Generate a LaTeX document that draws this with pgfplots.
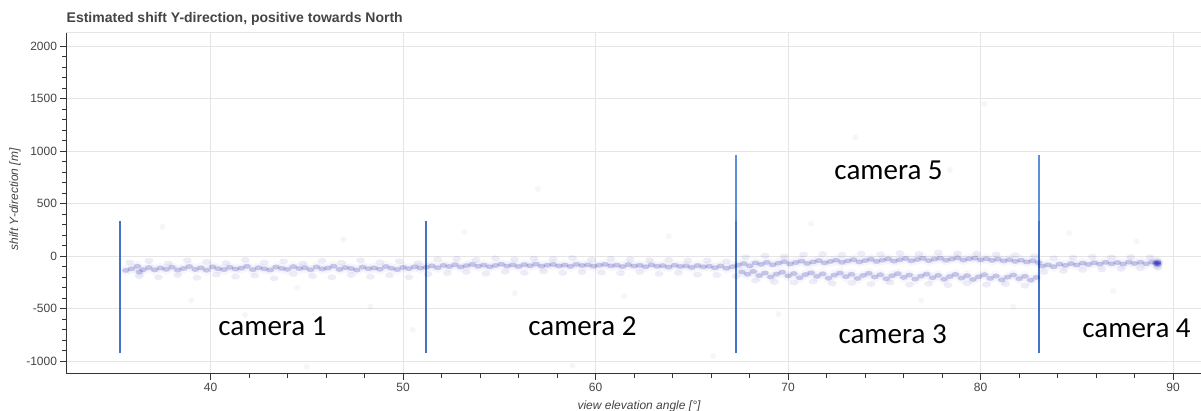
\documentclass[border=0pt]{standalone}
\usepackage{pgfplots}
\pgfplotsset{compat=1.18}
\usepackage{pgfplotstable}
\usepackage{fontspec}
\setmainfont{Liberation Sans}
\newfontfamily\camfont{Carlito}

\definecolor{txt}{HTML}{444444}
\definecolor{gridc}{HTML}{E5E5E5}
\definecolor{axc}{HTML}{333333}
\definecolor{camline}{HTML}{4472C4}
\definecolor{camlinelight}{HTML}{5F8FD8}
\definecolor{pts}{rgb}{0.0,0.0,0.62}

% estimated shift samples: elevation angle [deg], shift [m]
\pgfplotstableread{
x y
35.6 -135
35.9 -120
36.2 -95
36.3 -150
36.5 -128
36.8 -108
37.1 -130
37.4 -112
37.7 -125
38.0 -104
38.3 -131
38.6 -117
38.9 -98
39.2 -126
39.5 -110
39.8 -133
40.1 -101
40.4 -119
40.7 -127
41.0 -106
41.3 -122
41.6 -114
41.9 -96
42.2 -128
42.5 -109
42.8 -120
43.1 -131
43.4 -103
43.7 -116
44.0 -125
44.3 -99
44.6 -118
44.9 -110
45.2 -129
45.5 -102
45.8 -121
46.1 -113
46.4 -95
46.7 -126
47.0 -108
47.3 -117
47.6 -132
47.9 -104
48.2 -119
48.5 -111
48.8 -124
49.1 -98
49.4 -115
49.7 -127
50.0 -106
50.3 -118
50.6 -101
50.9 -113
51.2 -105
51.5 -92
51.8 -110
52.1 -87
52.4 -99
52.7 -81
53.0 -103
53.3 -90
53.6 -78
53.9 -96
54.2 -85
54.5 -101
54.8 -88
55.1 -76
55.4 -94
55.7 -83
56.0 -98
56.3 -80
56.6 -91
56.9 -75
57.2 -95
57.5 -86
57.8 -79
58.1 -93
58.4 -84
58.7 -97
59.0 -77
59.3 -89
59.6 -82
59.9 -95
60.2 -86
60.5 -78
60.8 -92
61.1 -85
61.4 -99
61.7 -80
62.0 -94
62.3 -87
62.6 -101
62.9 -83
63.2 -96
63.5 -90
63.8 -104
64.1 -86
64.4 -98
64.7 -92
65.0 -107
65.3 -89
65.6 -101
65.9 -95
66.2 -110
66.5 -93
66.8 -115
67.1 -100
67.4 -85
67.7 -70
68.0 -92
68.3 -64
68.6 -78
68.9 -58
69.2 -82
69.5 -66
69.8 -52
70.1 -74
70.4 -60
70.7 -47
71.0 -69
71.3 -55
71.6 -42
71.9 -63
72.2 -50
72.5 -38
72.8 -58
73.1 -45
73.4 -33
73.7 -54
74.0 -41
74.3 -29
74.6 -50
74.9 -37
75.2 -26
75.5 -47
75.8 -34
76.1 -22
76.4 -44
76.7 -31
77.0 -20
77.3 -42
77.6 -28
77.9 -18
78.2 -39
78.5 -27
78.8 -16
79.1 -37
79.4 -25
79.7 -19
80.0 -35
80.3 -24
80.6 -40
80.9 -28
81.2 -45
81.5 -33
81.8 -49
82.1 -38
82.4 -55
82.7 -44
83.0 -60
67.6 -150
67.9 -172
68.2 -145
68.5 -185
68.8 -160
69.1 -198
69.4 -170
69.7 -152
70.0 -188
70.3 -165
70.6 -205
70.9 -175
71.2 -158
71.5 -192
71.8 -168
72.1 -210
72.4 -180
72.7 -160
73.0 -195
73.3 -172
73.6 -212
73.9 -183
74.2 -163
74.5 -198
74.8 -176
75.1 -215
75.4 -186
75.7 -166
76.0 -202
76.3 -179
76.6 -218
76.9 -190
77.2 -170
77.5 -205
77.8 -182
78.1 -220
78.4 -193
78.7 -173
79.0 -208
79.3 -185
79.6 -222
79.9 -196
80.2 -176
80.5 -211
80.8 -188
81.1 -225
81.4 -199
81.7 -179
82.0 -214
82.3 -191
82.6 -228
82.9 -202
83.2 -95
83.5 -82
83.8 -100
84.1 -75
84.4 -88
84.7 -70
85.0 -84
85.3 -66
85.6 -79
85.9 -62
86.2 -76
86.5 -58
86.8 -72
87.1 -60
87.4 -75
87.7 -56
88.0 -70
88.3 -58
88.6 -73
88.9 -55
89.1 -68
89.2 -62
89.2 -70
89.2 -55
89.2 -78
}\shiftdata

% samples in the fringes of the band
\pgfplotstableread{
x y
35.8 -60
36.3 -190
36.8 -45
37.3 -200
37.8 -70
38.3 -180
38.8 -40
39.3 -205
39.8 -55
40.3 -175
40.8 -65
41.3 -195
41.8 -35
42.3 -185
42.8 -60
43.3 -210
43.8 -50
44.3 -170
44.8 -70
45.3 -190
45.8 -45
46.3 -200
46.8 -62
47.3 -178
47.8 -40
48.3 -195
48.8 -58
49.3 -182
49.8 -48
50.3 -200
50.8 -66
51.3 -170
51.8 -30
52.3 -160
52.8 -25
53.3 -150
53.8 -35
54.3 -165
54.8 -20
55.3 -148
55.8 -30
56.3 -158
56.8 -22
57.3 -145
57.8 -28
58.3 -160
58.8 -18
59.3 -150
59.8 -32
60.3 -155
60.8 -25
61.3 -162
61.8 -30
62.3 -150
62.8 -38
63.3 -168
63.8 -35
64.3 -158
64.8 -42
65.3 -175
65.8 -40
66.3 -180
66.8 -50
67.3 -190
67.8 -10
68.3 -230
68.8 5
69.3 -245
69.8 -2
70.3 -250
70.8 15
71.3 -240
71.8 20
72.3 -260
72.8 12
73.3 -255
73.8 25
74.3 -265
74.8 18
75.3 -250
75.8 30
76.3 -270
76.8 22
77.3 -262
77.8 35
78.3 -275
78.8 28
79.3 -258
79.8 25
80.3 -270
80.8 18
81.3 -265
81.8 10
82.3 -280
82.8 0
83.3 -150
83.8 -20
84.3 -140
84.8 -15
85.3 -130
85.8 -5
86.3 -125
86.8 -12
87.3 -120
87.8 -8
88.3 -115
88.8 -10
89.2 -110
}\fringe

% isolated outliers
\pgfplotstableread{
x y
37.5 280
39.0 -420
41.8 -560
44.5 -300
46.9 160
48.3 -480
50.5 -700
53.2 230
55.8 -350
57.0 640
61.5 -380
63.8 190
66.1 -950
69.5 -550
71.2 310
73.5 1130
76.9 -420
78.4 820
80.2 1450
81.7 -480
84.6 220
86.9 -330
88.1 140
45.0 -1050
58.8 -1040
}\outliers

\pgfplotsset{
  cloud/.style={only marks, mark=*, mark size=#1,
    mark options={draw opacity=0, line width=0pt, fill=pts}},
  cloudwide/.style={only marks, mark=*, mark size=#1,
    mark options={draw opacity=0, line width=0pt, fill=pts, xscale=1.5}},
}

\begin{document}
\begin{tikzpicture}[x=1pt,y=1pt]
\path[use as bounding box] (0,0) rectangle (1201,410);

\node[anchor=base west, inner sep=0pt, text=txt,
      font=\bfseries\fontsize{14}{16}\selectfont] at (66.5,387)
  {Estimated shift Y-direction, positive towards North};

\begin{axis}[
  at={(66.5pt,36.5pt)}, anchor=south west,
  scale only axis, width=1134.5pt, height=341.5pt,
  xmin=32.52, xmax=91.45, ymin=-1116, ymax=2133,
  xtick={40,50,60,70,80,90},
  xticklabels={40,50,60,70,80,90},
  ytick={-1000,-500,0,500,1000,1500,2000},
  yticklabels={-1000,-500,0,500,1000,1500,2000},
  minor x tick num=4, minor y tick num=4,
  axis lines*=left,
  axis line style={axc, line width=0.8pt, -},
  tick align=outside,
  major tick length=6pt, minor tick length=4pt,
  tick style={axc, line width=0.8pt},
  grid=major,
  major grid style={gridc, line width=0.8pt},
  ticklabel style={text=txt, font=\fontsize{12}{14}\selectfont},
  xlabel={view elevation angle [°]},
  ylabel={shift Y-direction [m]},
  label style={text=txt, font=\itshape\fontsize{12}{14}\selectfont},
  xlabel style={at={(axis description cs:0.5046,0)}, anchor=base, yshift=-35.5pt},
  ylabel style={at={(axis description cs:-0.0454,0.5095)}, anchor=center},
  clip=false,
]
% light outline along the top of the frame
\draw[gridc, line width=0.8pt] (rel axis cs:0,1) -- (rel axis cs:1,1);

% soft halo, fringes and core of the point cloud
\addplot[cloud=5.5pt, fill opacity=0.03] table[x=x,y=y] {\shiftdata};
\addplot[cloudwide=3pt, fill opacity=0.07] table[x=x,y=y] {\fringe};
\addplot[cloudwide=2.5pt, fill opacity=0.2] table[x=x,y=y] {\shiftdata};
\addplot[cloud=3pt, fill opacity=0.04] table[x=x,y=y] {\outliers};

% camera boundaries
\addplot[camline, line width=2.6pt] coordinates {(35.30,335) (35.30,-918)};
\addplot[camline, line width=2.6pt] coordinates {(51.19,335) (51.19,-918)};
\addplot[camlinelight, line width=2.6pt] coordinates {(67.30,963) (67.30,330)};
\addplot[camline, line width=2.6pt] coordinates {(67.30,335) (67.30,-918)};
\addplot[camlinelight, line width=2.6pt] coordinates {(83.04,963) (83.04,330)};
\addplot[camline, line width=2.6pt] coordinates {(83.04,335) (83.04,-918)};

\node[anchor=base, inner sep=0pt, font=\camfont\fontsize{29}{32}\selectfont] at (axis cs:43.22,-759) {camera 1};
\node[anchor=base, inner sep=0pt, font=\camfont\fontsize{29}{32}\selectfont] at (axis cs:59.32,-759) {camera 2};
\node[anchor=base, inner sep=0pt, font=\camfont\fontsize{29}{32}\selectfont] at (axis cs:75.22,732) {camera 5};
\node[anchor=base, inner sep=0pt, font=\camfont\fontsize{29}{32}\selectfont] at (axis cs:75.43,-826) {camera 3};
\node[anchor=base, inner sep=0pt, font=\camfont\fontsize{29}{32}\selectfont] at (axis cs:88.10,-778) {camera 4};
\end{axis}
\end{tikzpicture}
\end{document}
